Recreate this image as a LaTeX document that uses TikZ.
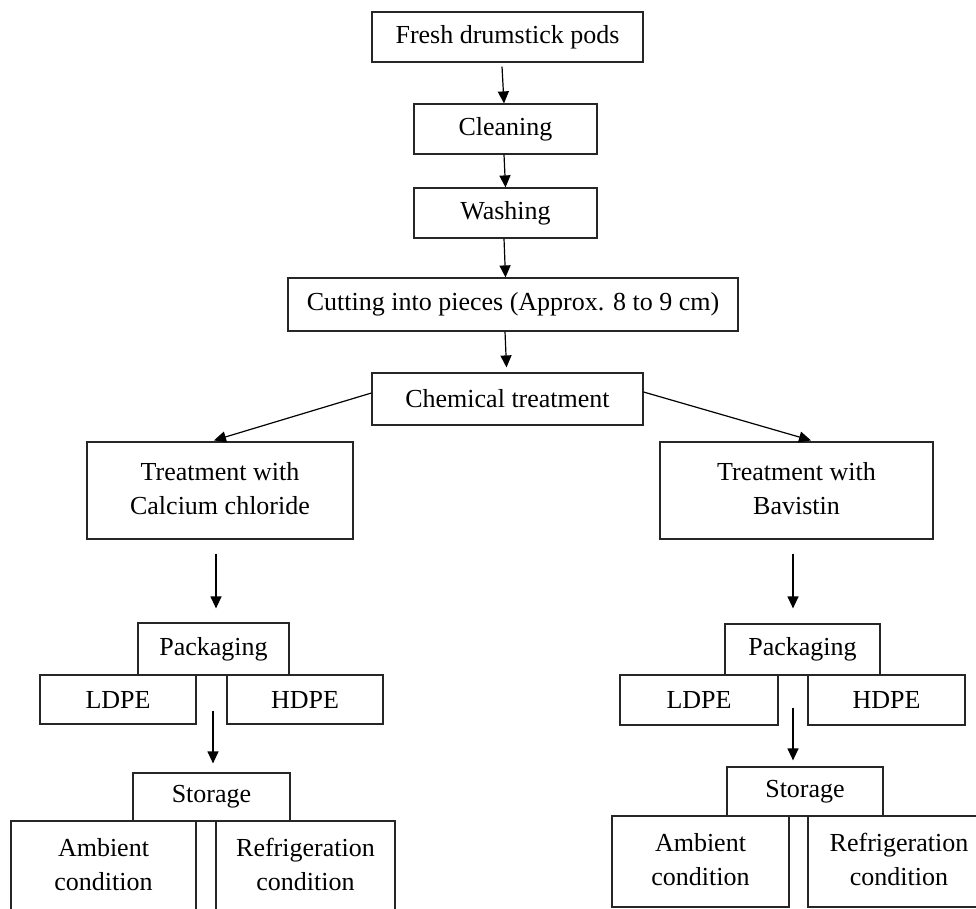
\documentclass[tikz,border=0pt]{standalone}
\usepackage{fontspec}
\setmainfont{Liberation Serif}
\usetikzlibrary{arrows.meta,calc}
\newcommand\mytwo[3]{\raisebox{#1}{\begin{tabular}{@{}c@{}}#2\\#3\end{tabular}}}
\begin{document}
\begin{tikzpicture}[x=1pt,y=-1pt,
  box/.style={draw=black!85, line width=1.2pt, inner sep=0pt, align=center, text=black,
              font=\fontsize{26}{34}\selectfont},
  arr/.style={draw=black, line width=1.2pt, -{Triangle[length=12pt,width=11pt]}}]
\path[use as bounding box] (0,0) rectangle (976,908);
\clip (0,0) rectangle (976,908);
% main column
\node[box, minimum width=271pt, minimum height=50pt] (fresh) at (507.5,37) {Fresh drumstick pods};
\node[box, minimum width=183pt, minimum height=50pt] (clean) at (505.5,129) {Cleaning};
\node[box, minimum width=183pt, minimum height=50pt] (wash) at (505.5,213) {Washing};
\node[box, minimum width=450pt, minimum height=53pt] (cut) at (513,304.5) {Cutting into pieces (Approx. 8 to 9 cm)};
\node[box, minimum width=271pt, minimum height=52pt] (chem) at (507.5,399) {Chemical treatment};
% treatments
\node[box, minimum width=266pt, minimum height=97pt] (calc) at (220,490.5) {\mytwo{8pt}{Treatment with}{Calcium chloride}};
\node[box, minimum width=273pt, minimum height=97pt] (bav) at (796.5,490.5) {\mytwo{8pt}{Treatment with}{Bavistin}};
% left branch
\node[box, minimum width=151pt, minimum height=52pt] (packL) at (213.5,649) {Packaging};
\node[box, minimum width=156pt, minimum height=49pt] (ldpeL) at (118,699.5) {LDPE};
\node[box, minimum width=156pt, minimum height=49pt] (hdpeL) at (305,699.5) {HDPE};
\node[box, minimum width=157pt, minimum height=48pt] (storL) at (211.5,797) {Storage};
\node[box, minimum width=185pt, minimum height=91pt] (ambL) at (103.5,866.5) {\mytwo{2pt}{Ambient}{condition}};
\node[box, minimum width=179pt, minimum height=91pt] (refL) at (305.5,866.5) {\mytwo{2pt}{Refrigeration}{condition}};
% right branch
\node[box, minimum width=155pt, minimum height=51pt] (packR) at (802.5,649.5) {Packaging};
\node[box, minimum width=158pt, minimum height=50pt] (ldpeR) at (699,700) {LDPE};
\node[box, minimum width=157pt, minimum height=50pt] (hdpeR) at (886.5,700) {HDPE};
\node[box, minimum width=156pt, minimum height=49pt] (storR) at (805,791.5) {Storage};
\node[box, minimum width=177pt, minimum height=91pt] (ambR) at (700.5,861.5) {\mytwo{3pt}{Ambient}{condition}};
\node[box, minimum width=182pt, minimum height=91pt] (refR) at (899,861.5) {\mytwo{3pt}{Refrigeration}{condition}};
% connectors
\draw[arr] ($(fresh.south)+(-5.5,4)$) -- ($(clean.north)+(-1.5,0)$);
\draw[arr] ($(clean.south)+(-1.5,0)$) -- ($(wash.north)+(0,0)$);
\draw[arr] ($(wash.south)+(-1.5,0)$) -- ($(cut.north)+(-7.5,0)$);
\draw[arr] ($(cut.south)+(-8,0)$) -- ($(chem.north)+(-1,-5)$);
\draw[arr] ($(chem.west)+(0,-6)$) -- ($(calc.north)+(-6,-1)$);
\draw[arr] ($(chem.east)+(0,-7)$) -- ($(bav.north)+(14.5,-1)$);
\draw[arr] ($(calc.south)+(-4,14)$) -- ($(packL.north)+(2.5,-14)$);
\draw[arr] ($(bav.south)+(-3.5,14)$) -- ($(packR.north)+(-9.5,-15)$);
\draw[arr] ($(packL.south)+(-0.5,35)$) -- ($(storL.north)+(1.5,-9)$);
\draw[arr] ($(packR.south)+(-9.5,32)$) -- ($(storR.north)+(-12,-6)$);
\end{tikzpicture}
\end{document}
